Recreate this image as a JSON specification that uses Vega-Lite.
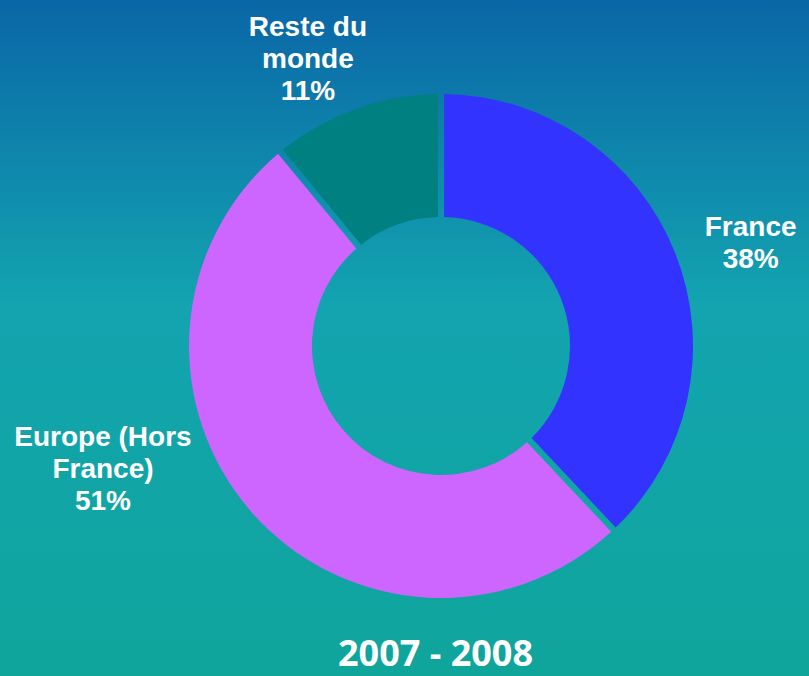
{
  "$schema": "https://vega.github.io/schema/vega-lite/v6.json",
  "width": 809,
  "height": 676,
  "autosize": "none",
  "padding": 0,
  "background": "#0fa59b",
  "config": {"view": {"stroke": null}},
  "title": {
    "text": "2007 - 2008",
    "orient": "bottom",
    "anchor": "middle",
    "font": "Open Sans",
    "fontWeight": "bold",
    "fontSize": 36,
    "color": "white",
    "baseline": "alphabetic",
    "offset": -10,
    "dx": 31
  },
  "datasets": {
    "shares": [
      {"cat": "France", "label": "France\n38%", "value": 38, "order": 1},
      {"cat": "Europe (Hors France)", "label": "Europe (Hors\nFrance)\n51%", "value": 51, "order": 2},
      {"cat": "Reste du monde", "label": "Reste du\nmonde\n11%", "value": 11, "order": 3}
    ]
  },
  "layer": [
    {
      "data": {"values": [{}]},
      "mark": {
        "type": "rect",
        "fill": {
          "gradient": "linear",
          "x1": 0, "y1": 0, "x2": 0, "y2": 1,
          "stops": [
            {"offset": 0, "color": "#0a66a7"},
            {"offset": 0.45, "color": "#13a4b0"},
            {"offset": 1, "color": "#0fa59b"}
          ]
        }
      },
      "encoding": {}
    },
    {
      "data": {"name": "shares"},
      "mark": {"type": "arc", "innerRadius": 129, "outerRadius": 252, "padAngle": 0.022, "xOffset": 36.5, "yOffset": 8},
      "encoding": {
        "theta": {"field": "value", "type": "quantitative", "stack": true},
        "order": {"field": "order", "type": "quantitative"},
        "color": {
          "field": "cat", "type": "nominal",
          "scale": {"domain": ["France", "Europe (Hors France)", "Reste du monde"], "range": ["#3333ff", "#cc66ff", "#008080"]},
          "legend": null
        }
      }
    },
    {
      "data": {"name": "shares"},
      "mark": {"type": "text", "font": "Liberation Sans", "fontWeight": "bold", "fontSize": 28, "lineHeight": 32, "lineBreak": "\n", "fill": "white", "align": "center", "baseline": "middle", "radius": 331, "thetaOffset": 0.016, "xOffset": 36.5, "yOffset": 7},
      "encoding": {
        "theta": {"field": "value", "type": "quantitative", "stack": true},
        "order": {"field": "order", "type": "quantitative"},
        "detail": {"field": "cat", "type": "nominal"},
        "text": {"field": "label", "type": "nominal"},
        "opacity": {"condition": {"test": "datum.cat === 'France'", "value": 1}, "value": 0}
      }
    },
    {
      "data": {"name": "shares"},
      "mark": {"type": "text", "font": "Liberation Sans", "fontWeight": "bold", "fontSize": 28, "lineHeight": 32, "lineBreak": "\n", "fill": "white", "align": "center", "baseline": "middle", "radius": 350.6, "thetaOffset": 0.454, "xOffset": 36.5, "yOffset": 7},
      "encoding": {
        "theta": {"field": "value", "type": "quantitative", "stack": true},
        "order": {"field": "order", "type": "quantitative"},
        "detail": {"field": "cat", "type": "nominal"},
        "text": {"field": "label", "type": "nominal"},
        "opacity": {"condition": {"test": "datum.cat === 'Europe (Hors France)'", "value": 1}, "value": 0}
      }
    },
    {
      "data": {"name": "shares"},
      "mark": {"type": "text", "font": "Liberation Sans", "fontWeight": "bold", "fontSize": 28, "lineHeight": 32, "lineBreak": "\n", "fill": "white", "align": "center", "baseline": "middle", "radius": 343.8, "thetaOffset": -0.052, "xOffset": 36.5, "yOffset": 7},
      "encoding": {
        "theta": {"field": "value", "type": "quantitative", "stack": true},
        "order": {"field": "order", "type": "quantitative"},
        "detail": {"field": "cat", "type": "nominal"},
        "text": {"field": "label", "type": "nominal"},
        "opacity": {"condition": {"test": "datum.cat === 'Reste du monde'", "value": 1}, "value": 0}
      }
    }
  ]
}
